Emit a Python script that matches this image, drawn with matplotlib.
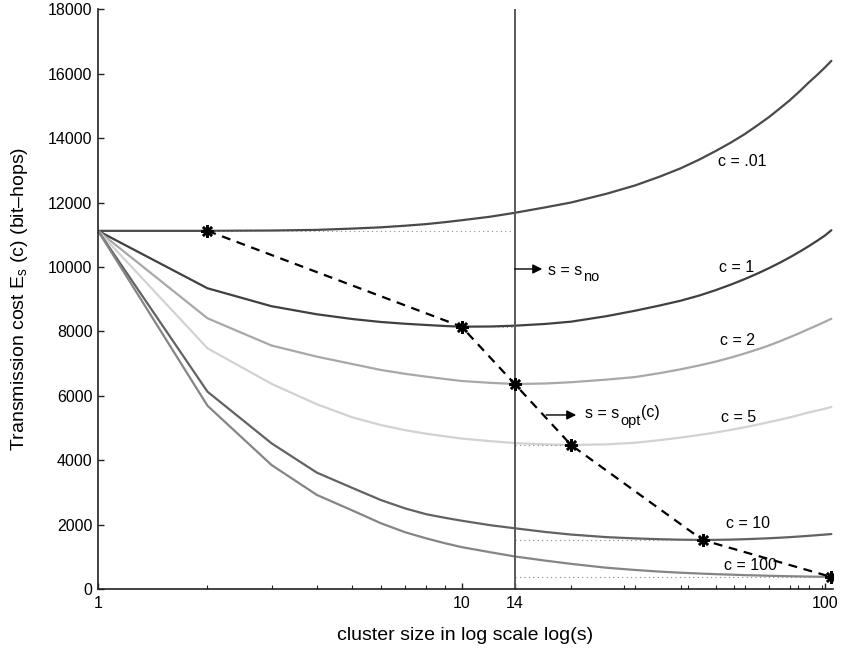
import matplotlib
matplotlib.use("Agg")
import matplotlib.pyplot as plt
from matplotlib.ticker import FixedLocator, NullFormatter

plt.rcParams['font.family'] = 'Liberation Sans'
plt.rcParams['mathtext.fontset'] = 'custom'
plt.rcParams['mathtext.rm'] = 'Liberation Sans'
plt.rcParams['mathtext.it'] = 'Liberation Sans:italic'

s = [1, 2, 3, 4, 5, 6, 7, 8, 9, 10, 12, 14, 17, 20, 25, 30, 35, 40, 45, 50,
     55, 60, 65, 70, 75, 80, 85, 90, 95, 100, 104]

cost_c001 = [11120, 11120, 11130, 11150, 11190, 11230, 11280, 11330, 11390, 11450, 11560,
             11680, 11850, 12000, 12270, 12530, 12800, 13060, 13330, 13600, 13860, 14120,
             14390, 14650, 14920, 15180, 15450, 15720, 15960, 16200, 16400]
cost_c1 = [11120, 9337, 8780, 8529, 8383, 8290, 8235, 8197, 8165, 8144, 8150,
           8175, 8230, 8300, 8470, 8640, 8800, 8950, 9110, 9280, 9450, 9620,
           9790, 9960, 10130, 10300, 10470, 10640, 10810, 10980, 11140]
cost_c2 = [11120, 8405, 7560, 7213, 6986, 6800, 6680, 6592, 6520, 6458, 6400,
           6365, 6380, 6420, 6500, 6580, 6700, 6820, 6940, 7060, 7185, 7310,
           7435, 7560, 7690, 7820, 7945, 8070, 8185, 8300, 8390]
cost_c5 = [11120, 7474, 6370, 5735, 5331, 5090, 4930, 4820, 4740, 4670, 4590,
           4530, 4490, 4471, 4490, 4540, 4620, 4700, 4780, 4860, 4940, 5020,
           5100, 5180, 5255, 5330, 5405, 5480, 5540, 5600, 5650]
cost_c10 = [11120, 6126, 4524, 3611, 3140, 2760, 2500, 2320, 2210, 2120, 1980,
            1885, 1770, 1690, 1610, 1570, 1545, 1530, 1522, 1525, 1533, 1545,
            1560, 1575, 1592, 1610, 1630, 1650, 1670, 1690, 1705]
cost_c100 = [11120, 5690, 3850, 2919, 2440, 2040, 1760, 1570, 1420, 1300, 1140,
             1010, 880, 780, 660, 590, 540, 505, 480, 460, 445, 430,
             420, 410, 402, 395, 390, 385, 381, 378, 373]

curves = [cost_c001, cost_c1, cost_c2, cost_c5, cost_c10, cost_c100]
curve_labels = ['c = .01', 'c = 1', 'c = 2', 'c = 5', 'c = 10', 'c = 100']
curve_colors = ['#4a4a4a', '#404040', '#a8a8a8', '#d2d2d2', '#626262', '#858585']
label_x = [50.6, 51.0, 51.5, 51.7, 53.2, 52.8]
label_y = [13258, 9967, 7700, 5331, 2018, 714]

# optimal cluster size for each c
s_opt = [2, 10, 14, 20, 46, 104]
e_opt = [11120, 8144, 6365, 4471, 1521, 373]
s_no = 14

fig = plt.figure(figsize=(8.43, 6.58), dpi=100)
ax = fig.add_axes([0.1163, 0.1049, 0.8717, 0.881])

for y, col in zip(curves, curve_colors):
    ax.plot(s, y, color=col, lw=1.6, solid_joinstyle='round', solid_capstyle='round')

# dotted guides from the optimum to the s_no line
for so, eo in zip(s_opt, e_opt):
    ax.plot([min(so, s_no), max(so, s_no)], [eo, eo], color='#8a8a8a', lw=0.8,
            linestyle=(0, (1, 3)))

ax.axvline(s_no, color='#5a5a5a', lw=1.4)

ax.plot(s_opt, e_opt, color='black', lw=1.6, linestyle=(0, (4, 3)),
        marker=(8, 2, 0), markersize=9, markeredgewidth=1.8)

for lab, lx, ly in zip(curve_labels, label_x, label_y):
    ax.text(lx, ly, lab, fontsize=11.5, ha='left', va='center')

# arrows + labels with big, low subscripts (like the original)
ax.annotate('', xy=(16.66, 9936), xytext=(14, 9936),
            arrowprops=dict(arrowstyle='-|>', color='black', lw=1, mutation_scale=14,
                            shrinkA=0, shrinkB=0))
t1 = ax.text(17.3, 9760, 's = s', fontsize=11.5, ha='left', va='baseline')
ax.annotate('no', xy=(1, 0), xycoords=t1, xytext=(0.3, -2.5), textcoords='offset points',
            fontsize=10.5, ha='left', va='baseline')

ax.annotate('', xy=(20.66, 5403), xytext=(17.09, 5403),
            arrowprops=dict(arrowstyle='-|>', color='black', lw=1, mutation_scale=14,
                            shrinkA=0, shrinkB=0))
t2 = ax.text(21.9, 5300, 's = s', fontsize=11.5, ha='left', va='baseline')
t3 = ax.annotate('opt', xy=(1, 0), xycoords=t2, xytext=(0.3, -2.5), textcoords='offset points',
                 fontsize=10.5, ha='left', va='baseline')
ax.annotate('(c)', xy=(1, 0), xycoords=t3, xytext=(0.3, 7.5), textcoords='offset points',
            fontsize=11.5, ha='left', va='baseline')

ax.set_xscale('log')
ax.set_xlim(1, 105)
ax.set_ylim(0, 18000)
ax.set_xticks([1, 10, 14, 100])
ax.set_xticklabels(['1', '10', '14', '100'])
ax.xaxis.set_minor_locator(FixedLocator([2, 3, 4, 5, 6, 7, 8, 9, 20, 28, 30, 40, 42, 50, 56,
                                         60, 70, 80, 84, 90, 98]))
ax.xaxis.set_minor_formatter(NullFormatter())
ax.set_yticks(range(0, 18001, 2000))

ax.spines['top'].set_visible(False)
ax.spines['right'].set_visible(False)
for sp in ['left', 'bottom']:
    ax.spines[sp].set_color('#222222')
    ax.spines[sp].set_linewidth(1.2)
ax.tick_params(which='major', direction='in', length=4.5, width=1, labelsize=11.5,
               color='#222222')
ax.tick_params(which='minor', direction='in', length=3, width=0.8, color='#222222')
ax.tick_params(axis='x', pad=5)
ax.tick_params(axis='y', pad=4)

ax.set_xlabel('cluster size in log scale log(s)', fontsize=14)
ax.set_ylabel(r'Transmission cost E$_\mathrm{s}$ (c) (bit–hops)', fontsize=14)
ax.xaxis.set_label_coords(0.5, -0.066)
ax.yaxis.set_label_coords(-0.092, 0.5)

fig.savefig('out.png', dpi=100)
